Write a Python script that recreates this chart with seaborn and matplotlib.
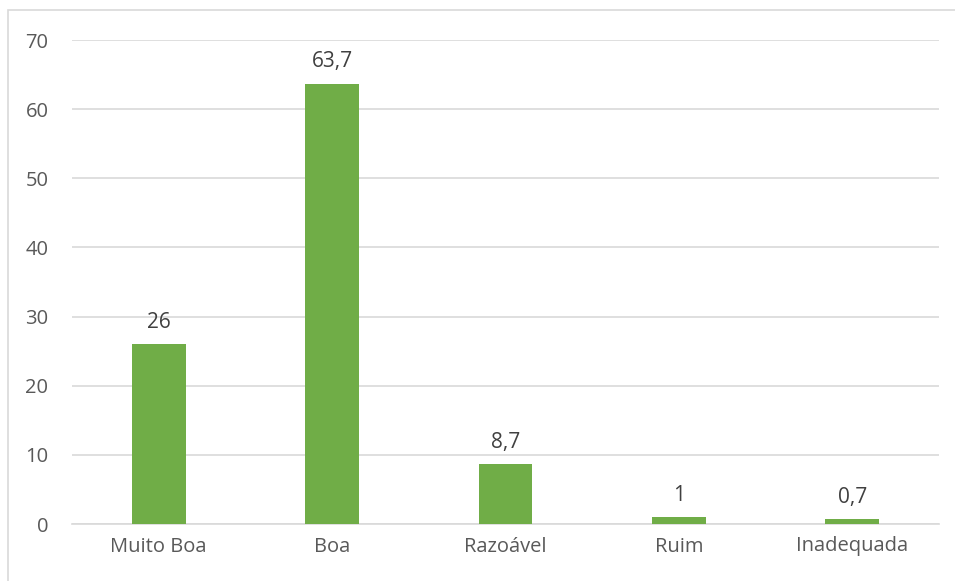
import matplotlib
matplotlib.use("Agg")
import matplotlib.pyplot as plt
import seaborn as sns
import pandas as pd
from matplotlib.patches import Rectangle

categories = ["Muito Boa", "Boa", "Razoável", "Ruim", "Inadequada"]
values = [26, 63.7, 8.7, 1, 0.7]
value_labels = ["26", "63,7", "8,7", "1", "0,7"]
yticks = [0, 10, 20, 30, 40, 50, 60, 70]

sns.set_theme(style="white")
plt.rcParams["font.family"] = ["Open Sans", "DejaVu Sans"]

df = pd.DataFrame({"cat": categories, "val": values})

fig = plt.figure(figsize=(9.55, 5.81), dpi=100)
ax = fig.add_axes([72 / 955, 1 - 524 / 581, (939 - 72) / 955, (524 - 40) / 581])

sns.barplot(data=df, x="cat", y="val", color="#70AD47", saturation=1,
            width=0.31, linewidth=0, ax=ax, zorder=3)

ax.set_ylim(0, 70)
ax.set_xlim(-0.5, len(categories) - 0.5)
ax.set_yticks(yticks)
ax.set_yticklabels([str(t) for t in yticks])
ax.yaxis.grid(True, color="#D9D9D9", linewidth=1.2, zorder=0)
ax.set_axisbelow(True)
for s in ["top", "right", "left"]:
    ax.spines[s].set_visible(False)
ax.spines["bottom"].set_color("#D9D9D9")
ax.spines["bottom"].set_linewidth(1.2)
ax.tick_params(axis="both", length=0, labelsize=14.5, colors="#595959")
ax.tick_params(axis="y", pad=17)
ax.tick_params(axis="x", pad=9)
ax.set_xlabel("")
ax.set_ylabel("")

for i, (v, lab) in enumerate(zip(values, value_labels)):
    ax.annotate(lab, (i, v), xytext=(0, 8), textcoords="offset points",
                ha="center", va="bottom", fontsize=15, color="#404040")

fig.patches.append(Rectangle((8 / 955, -0.1), 1.2, 1 - 10 / 581 + 0.1,
                             transform=fig.transFigure, fill=False,
                             edgecolor="#D9D9D9", linewidth=1.2))

fig.savefig("out.png", dpi=100)
